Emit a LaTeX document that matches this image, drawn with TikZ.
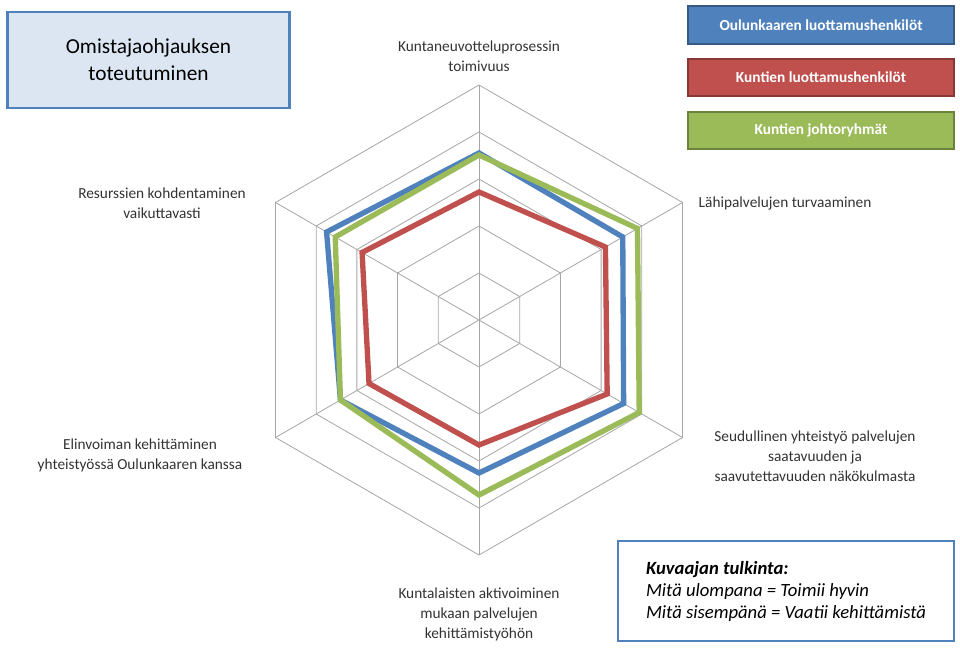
\documentclass[tikz,border=0pt]{standalone}
\usepackage{fontspec}
\setmainfont{Carlito}
\usetikzlibrary{positioning}
\definecolor{sblue}{HTML}{4F81BD}
\definecolor{sred}{HTML}{C0504D}
\definecolor{sgreen}{HTML}{9BBB59}
\definecolor{titlefill}{HTML}{DCE6F2}
\definecolor{gridgray}{HTML}{A6A6A6}
\begin{document}
\begin{tikzpicture}[x=0.75pt,y=0.75pt,
  axislabel/.style={font=\fontsize{11.5}{15}\selectfont, text=black!80, align=center},
  legendbox/.style={minimum width=199pt, minimum height=28pt, line width=1.5pt, text=white, font=\fontsize{11.5}{13}\selectfont\bfseries},
  series/.style={line width=4pt, line join=miter}]
\useasboundingbox (0,0) rectangle (960,647);
\coordinate (O) at (479,327);
% grid
\foreach \r in {47,94,141,188,235}
  \draw[gridgray, line width=0.6pt] (O) ++(90:\r) -- ++(-30:\r) -- ++(-90:\r) -- ++(-150:\r) -- ++(150:\r) -- ++(90:\r) -- cycle;
\foreach \a in {90,30,-30,-90,-150,150}
  \draw[gridgray, line width=0.6pt] (O) -- ++(\a:235);
% data
\path (O) ++(90:167) coordinate (b1) (O) ++(30:166) coordinate (b2) (O) ++(-30:167) coordinate (b3) (O) ++(-90:153) coordinate (b4) (O) ++(-150:160) coordinate (b5) (O) ++(150:176) coordinate (b6);
\path (O) ++(90:128) coordinate (r1) (O) ++(30:146) coordinate (r2) (O) ++(-30:148) coordinate (r3) (O) ++(-90:125) coordinate (r4) (O) ++(-150:127) coordinate (r5) (O) ++(150:135) coordinate (r6);
\path (O) ++(90:165) coordinate (g1) (O) ++(30:183) coordinate (g2) (O) ++(-30:185) coordinate (g3) (O) ++(-90:175) coordinate (g4) (O) ++(-150:160) coordinate (g5) (O) ++(150:166) coordinate (g6);
\draw[series, sblue] (b1) -- (b2) -- (b3) -- (b4) -- (b5) -- (b6) -- cycle;
\draw[series, sgreen] (g1) -- (g2) -- (g3) -- (g4) -- (g5) -- (g6) -- cycle;
\draw[series, sred] (r1) -- (r2) -- (r3) -- (r4) -- (r5) -- (r6) -- cycle;
% axis labels
\node[axislabel] (top) at (479,591) {Kuntaneuvotteluprosessin\\toimivuus};
\node[axislabel, anchor=west] (ur) at (694,444) {Lähipalvelujen turvaaminen};
\node[axislabel] (lr) at (815,191) {Seudullinen yhteistyö palvelujen\\saatavuuden ja\\saavutettavuuden näkökulmasta};
\node[axislabel] (bot) at (479,33) {Kuntalaisten aktivoiminen\\mukaan palvelujen\\kehittämistyöhön};
\node[axislabel] (ll) at (140,192) {Elinvoiman kehittäminen\\yhteistyössä Oulunkaaren kanssa};
\node[axislabel] (ul) at (162,444) {Resurssien kohdentaminen\\vaikuttavasti};
% title and legend
\node[draw=sblue, fill=titlefill, line width=2.2pt, minimum width=212pt, minimum height=72pt, align=center, font=\fontsize{16}{20}\selectfont] (title) at (148.5,587) {Omistajaohjauksen\\toteutuminen};
\node[legendbox, draw=sblue!70!black, fill=sblue] (lblue) at (821,622) {Oulunkaaren luottamushenkilöt};
\node[legendbox, draw=sred!70!black, fill=sred, below=10pt of lblue] (lred) {Kuntien luottamushenkilöt};
\node[legendbox, draw=sgreen!70!black, fill=sgreen, below=10pt of lred] (lgreen) {Kuntien johtoryhmät};
\node[draw=sblue, fill=white, line width=1.8pt, minimum width=252pt, minimum height=75pt, align=left, font=\fontsize{14}{16.5}\selectfont\itshape] (note) at (786,56) {\textbf{Kuvaajan tulkinta:}\\Mitä ulompana = Toimii hyvin\\Mitä sisempänä = Vaatii kehittämistä};
\end{tikzpicture}
\end{document}
